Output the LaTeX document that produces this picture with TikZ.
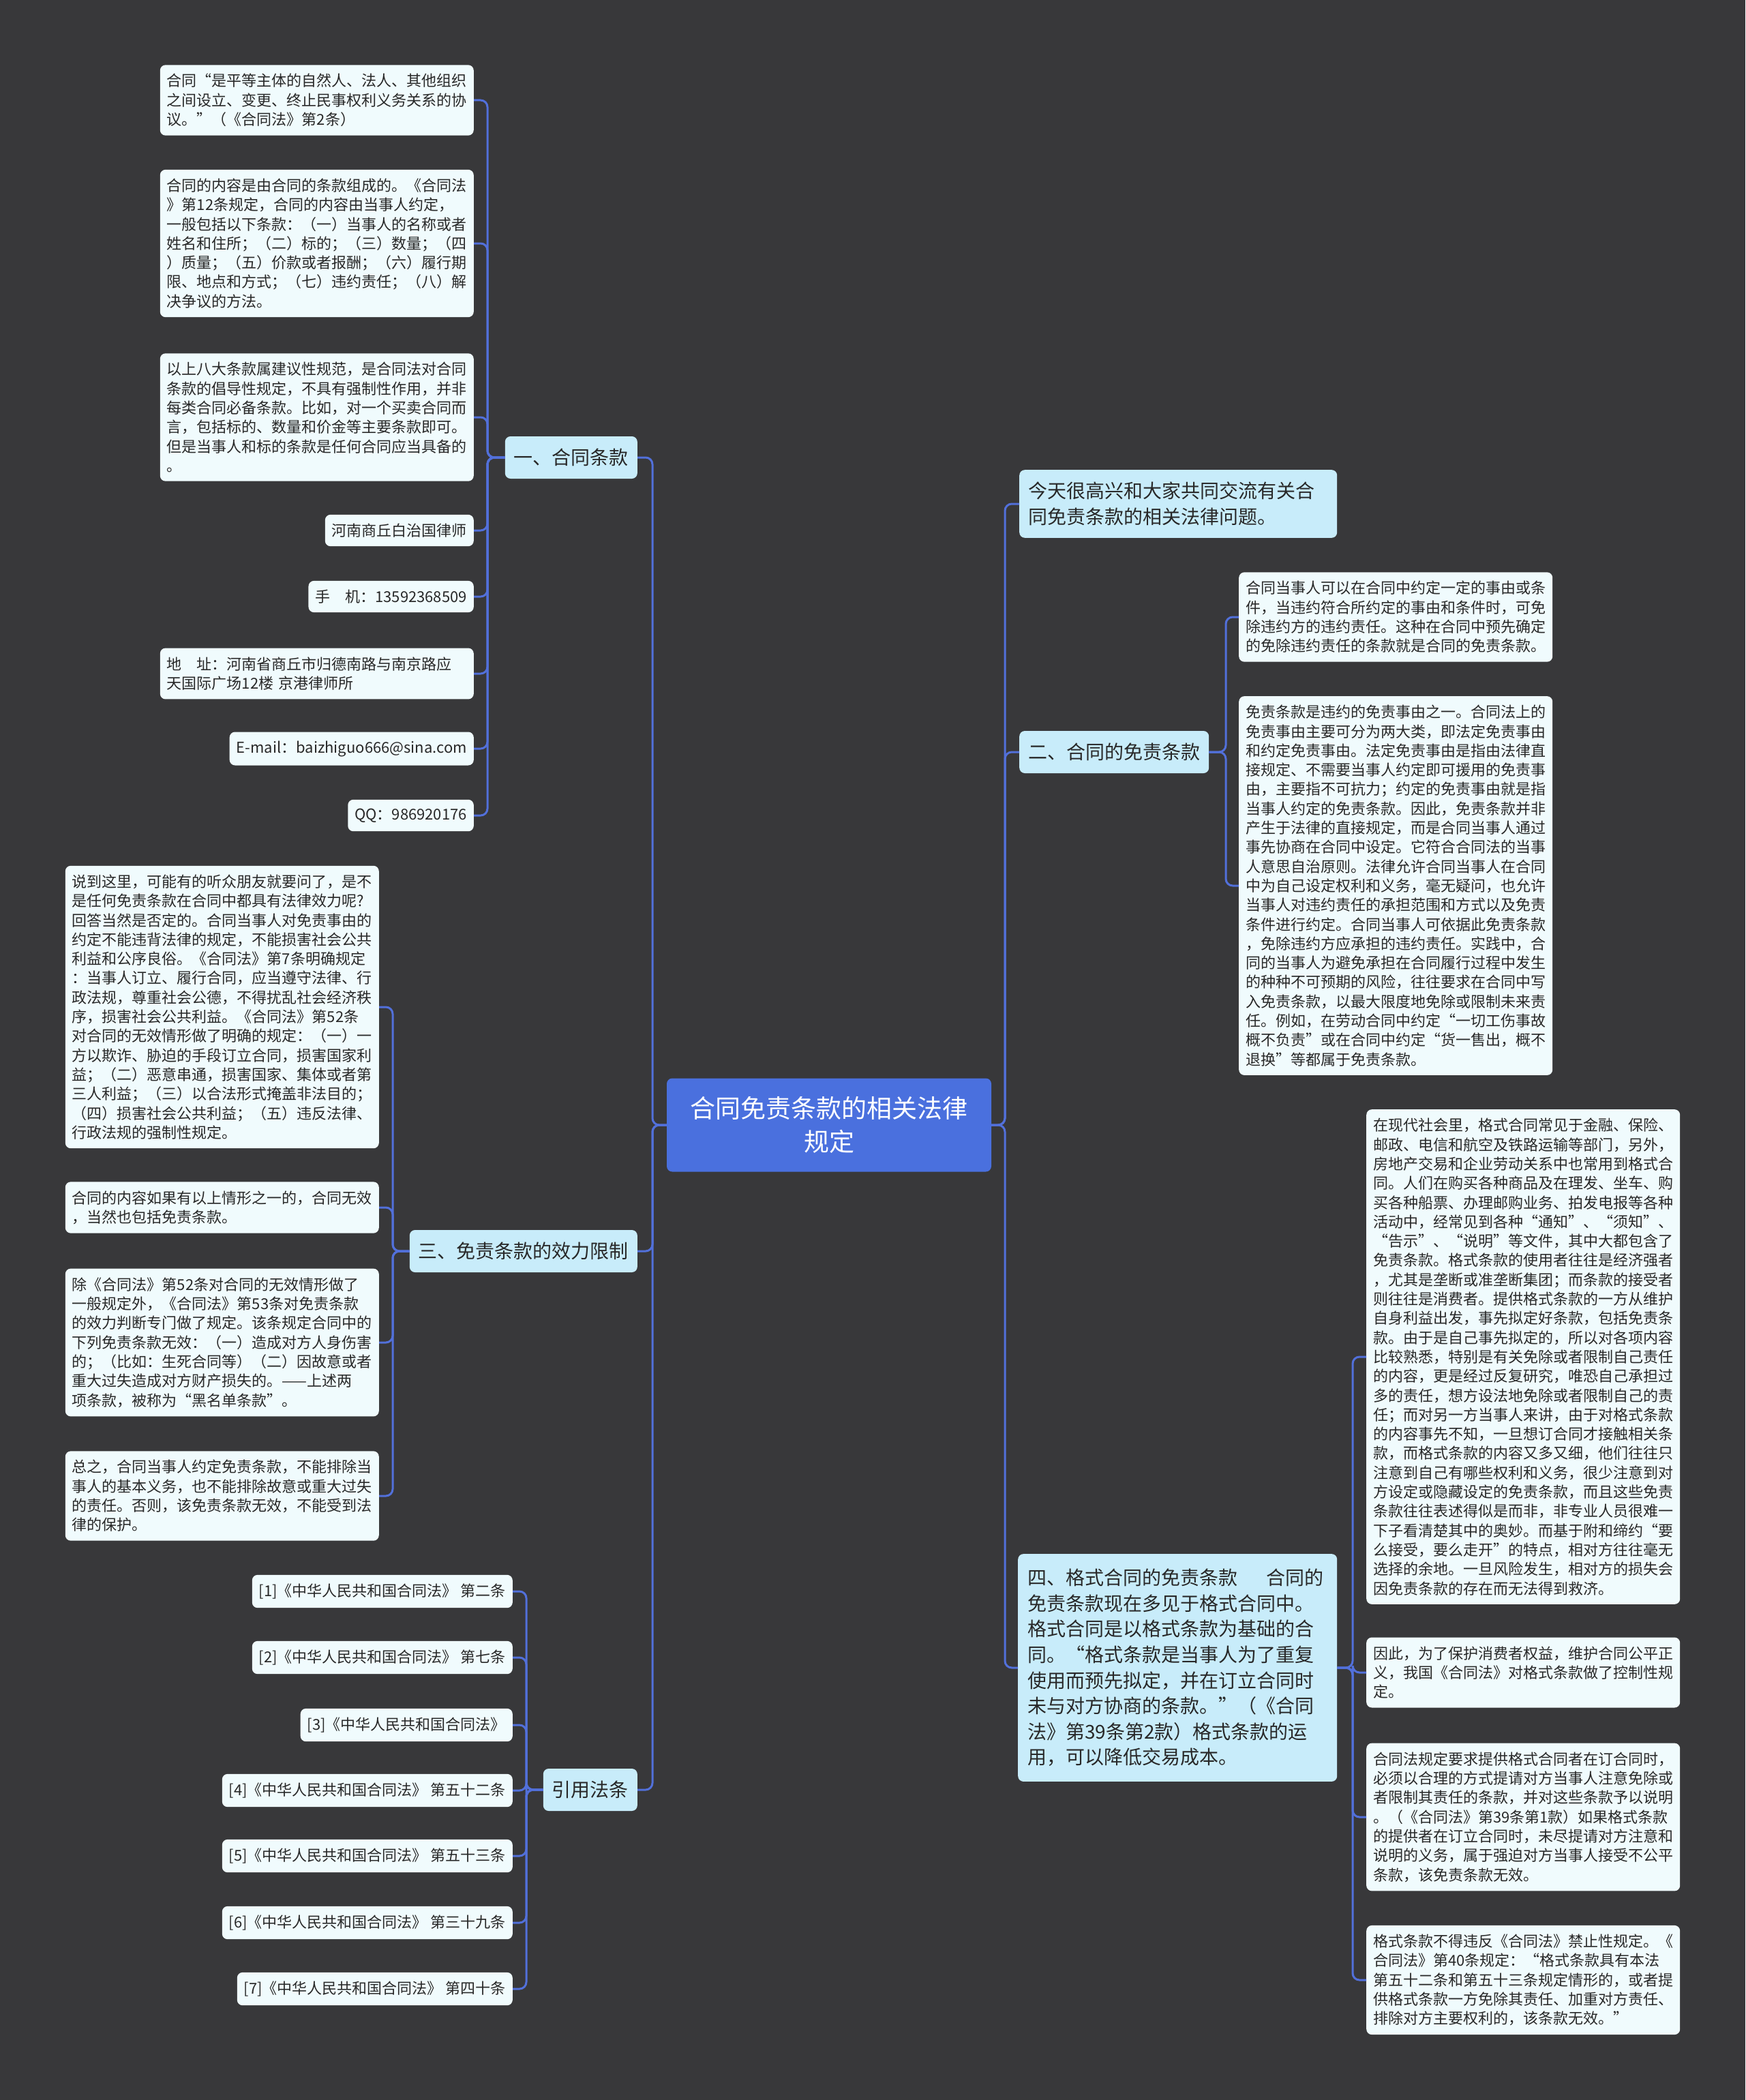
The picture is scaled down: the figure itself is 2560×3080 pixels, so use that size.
\documentclass[tikz,border=0pt]{standalone}
\usepackage{fontspec}
\setmainfont{Noto Sans CJK SC}
\definecolor{bgc}{RGB}{56,56,58}
\definecolor{leaff}{RGB}{240,251,253}
\definecolor{secf}{RGB}{200,236,250}
\definecolor{rootf}{RGB}{74,112,222}
\definecolor{linec}{RGB}{82,112,218}
\definecolor{txt}{RGB}{40,40,40}
\begin{document}
\begin{tikzpicture}[x=1pt,y=-1pt,
  leaf/.style={fill=leaff, rounded corners=8pt, text=txt, inner xsep=10pt, inner ysep=13pt, font=\fontsize{22}{28.3}\selectfont},
  leafw/.style={leaf, text width=440pt, align=left},
  sec/.style={fill=secf, rounded corners=8pt, text=txt, inner xsep=13pt, minimum height=62pt, font=\fontsize{28}{37.6}\selectfont},
  secw/.style={sec, text width=440pt, align=left},
  root/.style={fill=rootf, rounded corners=8pt, text=white, text width=440pt, align=center, minimum width=476pt, minimum height=137pt, font=\fontsize{37}{49}\selectfont},
  conn/.style={draw=linec, line width=3pt, rounded corners=10pt}]
\useasboundingbox (0,0) rectangle (2560,3080);
\fill[bgc] (0,0) rectangle (2560,3080);

% trunk coordinates
\coordinate (tl) at (957,0);
\coordinate (tr) at (1474,0);
\coordinate (t1) at (715,0);
\coordinate (t3) at (576,0);
\coordinate (tc) at (772,0);
\coordinate (t2) at (1798,0);
\coordinate (t4) at (1984,0);

% root
\node[root] (root) at (1216,1650) {合同免责条款的相关法律\\规定};

% left sections
\node[sec, anchor=east] (s1) at (935,671) {一、合同条款};
\node[sec, anchor=east] (s3) at (935,1835) {三、免责条款的效力限制};
\node[sec, anchor=east] (cite) at (935,2625) {引用法条};

% right sections
\node[secw, anchor=west, inner ysep=18pt] (r1) at (1495,739) {今天很高兴和大家共同交流有关合\\同免责条款的相关法律问题。};
\node[sec, anchor=west] (s2) at (1495,1103) {二、合同的免责条款};
\node[secw, anchor=west, inner xsep=14pt, inner ysep=22pt] (s4) at (1493,2446) {\makebox[440pt][l]{四、格式合同的免责条款\hspace{42pt}合同的}\\免责条款现在多见于格式合同中。\\格式合同是以格式条款为基础的合\\同。“格式条款是当事人为了重复\\使用而预先拟定，并在订立合同时\\未与对方协商的条款。”（《合同\\法》第39条第2款）格式条款的运\\用，可以降低交易成本。};

% section 1 leaves
\node[leafw, anchor=east] (a1) at (695,147) {合同“是平等主体的自然人、法人、其他组织\\之间设立、变更、终止民事权利义务关系的协\\议。”（《合同法》第2条）};
\node[leafw, anchor=east] (a2) at (695,357) {合同的内容是由合同的条款组成的。《合同法\\》第12条规定，合同的内容由当事人约定，\\一般包括以下条款：（一）当事人的名称或者\\姓名和住所；（二）标的；（三）数量；（四\\）质量；（五）价款或者报酬；（六）履行期\\限、地点和方式；（七）违约责任；（八）解\\决争议的方法。};
\node[leafw, anchor=east] (a3) at (695,612) {以上八大条款属建议性规范，是合同法对合同\\条款的倡导性规定，不具有强制性作用，并非\\每类合同必备条款。比如，对一个买卖合同而\\言，包括标的、数量和价金等主要条款即可。\\但是当事人和标的条款是任何合同应当具备的\\。};
\node[leaf, anchor=east] (a4) at (695,778) {河南商丘白治国律师};
\node[leaf, anchor=east] (a5) at (695,875) {手　机：13592368509};
\node[leafw, anchor=east] (a6) at (695,988) {地　址：河南省商丘市归德南路与南京路应\\天国际广场12楼 京港律师所};
\node[leaf, anchor=east] (a7) at (695,1098) {E-mail：baizhiguo666@sina.com};
\node[leaf, anchor=east] (a8) at (695,1196) {QQ：986920176};

% section 3 leaves
\node[leafw, anchor=east] (c1) at (556,1477) {说到这里，可能有的听众朋友就要问了，是不\\是任何免责条款在合同中都具有法律效力呢?\\回答当然是否定的。合同当事人对免责事由的\\约定不能违背法律的规定，不能损害社会公共\\利益和公序良俗。《合同法》第7条明确规定\\：当事人订立、履行合同，应当遵守法律、行\\政法规，尊重社会公德，不得扰乱社会经济秩\\序，损害社会公共利益。《合同法》第52条\\对合同的无效情形做了明确的规定：（一）一\\方以欺诈、胁迫的手段订立合同，损害国家利\\益；（二）恶意串通，损害国家、集体或者第\\三人利益；（三）以合法形式掩盖非法目的；\\（四）损害社会公共利益；（五）违反法律、\\行政法规的强制性规定。};
\node[leafw, anchor=east] (c2) at (556,1771) {合同的内容如果有以上情形之一的，合同无效\\，当然也包括免责条款。};
\node[leafw, anchor=east] (c3) at (556,1969) {除《合同法》第52条对合同的无效情形做了\\一般规定外，《合同法》第53条对免责条款\\的效力判断专门做了规定。该条规定合同中的\\下列免责条款无效：（一）造成对方人身伤害\\的；（比如：生死合同等）（二）因故意或者\\重大过失造成对方财产损失的。——上述两\\项条款，被称为“黑名单条款”。};
\node[leafw, anchor=east] (c4) at (556,2194) {总之，合同当事人约定免责条款，不能排除当\\事人的基本义务，也不能排除故意或重大过失\\的责任。否则，该免责条款无效，不能受到法\\律的保护。};

% citations
\node[leaf, anchor=east] (k1) at (752,2334) {[1]《中华人民共和国合同法》 第二条};
\node[leaf, anchor=east] (k2) at (752,2431) {[2]《中华人民共和国合同法》 第七条};
\node[leaf, anchor=east] (k3) at (752,2530) {[3]《中华人民共和国合同法》};
\node[leaf, anchor=east] (k4) at (752,2626) {[4]《中华人民共和国合同法》 第五十二条};
\node[leaf, anchor=east] (k5) at (752,2722) {[5]《中华人民共和国合同法》 第五十三条};
\node[leaf, anchor=east] (k6) at (752,2820) {[6]《中华人民共和国合同法》 第三十九条};
\node[leaf, anchor=east] (k7) at (752,2917) {[7]《中华人民共和国合同法》 第四十条};

% section 2 leaves
\node[leafw, anchor=west] (b1) at (1817,905) {合同当事人可以在合同中约定一定的事由或条\\件，当违约符合所约定的事由和条件时，可免\\除违约方的违约责任。这种在合同中预先确定\\的免除违约责任的条款就是合同的免责条款。};
\node[leafw, anchor=west] (b2) at (1817,1299) {免责条款是违约的免责事由之一。合同法上的\\免责事由主要可分为两大类，即法定免责事由\\和约定免责事由。法定免责事由是指由法律直\\接规定、不需要当事人约定即可援用的免责事\\由，主要指不可抗力；约定的免责事由就是指\\当事人约定的免责条款。因此，免责条款并非\\产生于法律的直接规定，而是合同当事人通过\\事先协商在合同中设定。它符合合同法的当事\\人意思自治原则。法律允许合同当事人在合同\\中为自己设定权利和义务，毫无疑问，也允许\\当事人对违约责任的承担范围和方式以及免责\\条件进行约定。合同当事人可依据此免责条款\\，免除违约方应承担的违约责任。实践中，合\\同的当事人为避免承担在合同履行过程中发生\\的种种不可预期的风险，往往要求在合同中写\\入免责条款，以最大限度地免除或限制未来责\\任。例如，在劳动合同中约定“一切工伤事故\\概不负责”或在合同中约定“货一售出，概不\\退换”等都属于免责条款。};

% section 4 leaves
\node[leafw, anchor=west] (d1) at (2004,1990) {在现代社会里，格式合同常见于金融、保险、\\邮政、电信和航空及铁路运输等部门，另外，\\房地产交易和企业劳动关系中也常用到格式合\\同。人们在购买各种商品及在理发、坐车、购\\买各种船票、办理邮购业务、拍发电报等各种\\活动中，经常见到各种“通知”、“须知”、\\“告示”、“说明”等文件，其中大都包含了\\免责条款。格式条款的使用者往往是经济强者\\，尤其是垄断或准垄断集团；而条款的接受者\\则往往是消费者。提供格式条款的一方从维护\\自身利益出发，事先拟定好条款，包括免责条\\款。由于是自己事先拟定的，所以对各项内容\\比较熟悉，特别是有关免除或者限制自己责任\\的内容，更是经过反复研究，唯恐自己承担过\\多的责任，想方设法地免除或者限制自己的责\\任；而对另一方当事人来讲，由于对格式条款\\的内容事先不知，一旦想订合同才接触相关条\\款，而格式条款的内容又多又细，他们往往只\\注意到自己有哪些权利和义务，很少注意到对\\方设定或隐藏设定的免责条款，而且这些免责\\条款往往表述得似是而非，非专业人员很难一\\下子看清楚其中的奥妙。而基于附和缔约“要\\么接受，要么走开”的特点，相对方往往毫无\\选择的余地。一旦风险发生，相对方的损失会\\因免责条款的存在而无法得到救济。};
\node[leafw, anchor=west] (d2) at (2004,2453) {因此，为了保护消费者权益，维护合同公平正\\义，我国《合同法》对格式条款做了控制性规\\定。};
\node[leafw, anchor=west] (d3) at (2004,2665) {合同法规定要求提供格式合同者在订合同时，\\必须以合理的方式提请对方当事人注意免除或\\者限制其责任的条款，并对这些条款予以说明\\。（《合同法》第39条第1款）如果格式条款\\的提供者在订立合同时，未尽提请对方注意和\\说明的义务，属于强迫对方当事人接受不公平\\条款，该免责条款无效。};
\node[leafw, anchor=west] (d4) at (2004,2904) {格式条款不得违反《合同法》禁止性规定。《\\合同法》第40条规定：“格式条款具有本法\\第五十二条和第五十三条规定情形的，或者提\\供格式条款一方免除其责任、加重对方责任、\\排除对方主要权利的，该条款无效。”};

% connectors: root to sections
\foreach \n in {s1,s3,cite}
  \draw[conn] (root.west) -- (root.west -| tl) |- (\n.east);
\foreach \n in {r1,s2,s4}
  \draw[conn] (root.east) -- (root.east -| tr) |- (\n.west);
% section 1
\foreach \n in {a1,a2,a3,a4,a5,a6,a7,a8}
  \draw[conn] (s1.west) -- (s1.west -| t1) |- (\n.east);
% section 3
\foreach \n in {c1,c2,c3,c4}
  \draw[conn] (s3.west) -- (s3.west -| t3) |- (\n.east);
% citations
\foreach \n in {k1,k2,k3,k4,k5,k6,k7}
  \draw[conn] (cite.west) -- (cite.west -| tc) |- (\n.east);
% section 2
\foreach \n in {b1,b2}
  \draw[conn] (s2.east) -- (s2.east -| t2) |- (\n.west);
% section 4
\foreach \n in {d1,d2,d3,d4}
  \draw[conn] (s4.east) -- (s4.east -| t4) |- (\n.west);
\end{tikzpicture}
\end{document}
